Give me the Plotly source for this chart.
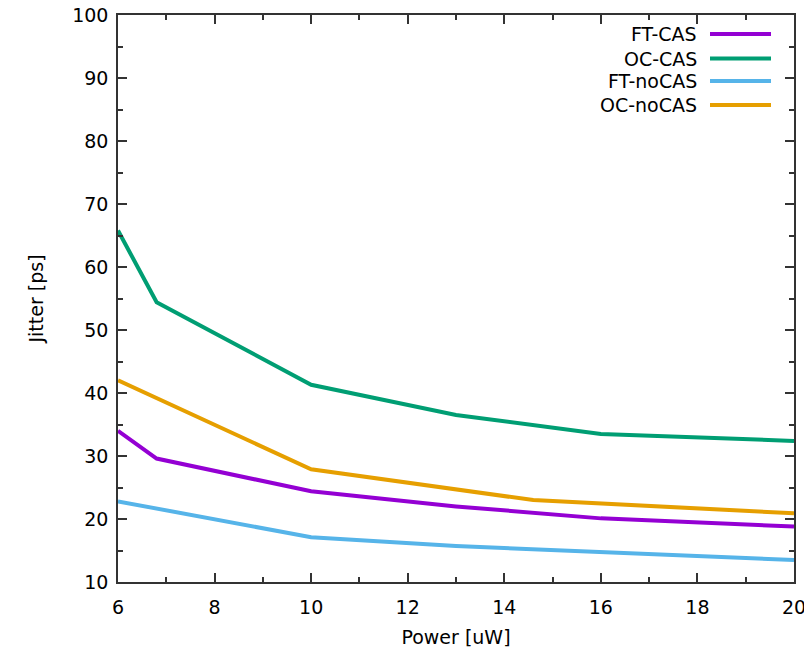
import plotly.graph_objects as go

power_ft_cas = [6, 6.8, 10, 13, 16, 20]
jitter_ft_cas = [34.0, 29.6, 24.4, 22.0, 20.1, 18.8]

power_oc_cas = [6, 6.8, 10, 13, 16, 20]
jitter_oc_cas = [65.8, 54.4, 41.3, 36.5, 33.5, 32.4]

power_ft_nocas = [6, 10, 13, 16, 20]
jitter_ft_nocas = [22.8, 17.1, 15.7, 14.7, 13.5]

power_oc_nocas = [6, 10, 14.6, 20]
jitter_oc_nocas = [42.0, 27.9, 23.0, 20.9]

series = [
    ("FT-CAS", power_ft_cas, jitter_ft_cas, "#9400D3"),
    ("OC-CAS", power_oc_cas, jitter_oc_cas, "#009E73"),
    ("FT-noCAS", power_ft_nocas, jitter_ft_nocas, "#56B4E9"),
    ("OC-noCAS", power_oc_nocas, jitter_oc_nocas, "#E69F00"),
]

x_ticks = [6, 8, 10, 12, 14, 16, 18, 20]
y_ticks = [10, 20, 30, 40, 50, 60, 70, 80, 90, 100]

FONT = "DejaVu Sans"
fig = go.Figure()
for name, xs, ys, col in series:
    fig.add_trace(go.Scatter(x=xs, y=ys, mode="lines", name=name,
                             line=dict(color=col, width=4), showlegend=False))

# legend drawn gnuplot-style (text right, sample line on the right)
leg_y = [34, 58.5, 81, 105]
for (name, xs, ys, col), yy in zip(series, leg_y):
    yp = 1 - (yy - 15) / 567
    fig.add_annotation(x=(699 - 118) / 676, y=yp, xref="paper", yref="paper",
                       text=name, showarrow=False, xanchor="right", yanchor="middle",
                       font=dict(family=FONT, size=19, color="black"))
    fig.add_shape(type="line", xref="paper", yref="paper",
                  x0=(710 - 118) / 676, x1=(771 - 118) / 676, y0=yp, y1=yp,
                  line=dict(color=col, width=4))

axis_common = dict(
    showline=True, linecolor="#333", linewidth=1.5, mirror="ticks",
    ticks="inside", ticklen=9, tickcolor="#333", tickwidth=1.5,
    showgrid=False, zeroline=False, automargin=False,
    ticklabeloverflow="allow",
    tickfont=dict(family=FONT, size=19, color="black"),
)

fig.update_xaxes(range=[6, 20], tickvals=x_ticks, ticklabelstandoff=7,
                 minor=dict(ticks="inside", ticklen=5, dtick=1, tickcolor="#333", tickwidth=1.5),
                 title=dict(text="Power [uW]", font=dict(family=FONT, size=19, color="black"), standoff=14),
                 **axis_common)
fig.update_yaxes(range=[10, 100], tickvals=y_ticks, ticklabelstandoff=4,
                 minor=dict(ticks="inside", ticklen=5, dtick=5, tickcolor="#333", tickwidth=1.5),
                 title=dict(text="Jitter [ps]", font=dict(family=FONT, size=19, color="black"), standoff=24),
                 **axis_common)

fig.update_layout(width=804, height=646, paper_bgcolor="white", plot_bgcolor="white",
                  margin=dict(l=110, r=18, t=7, b=72, autoexpand=False), showlegend=False)

fig.write_html("out.html")
